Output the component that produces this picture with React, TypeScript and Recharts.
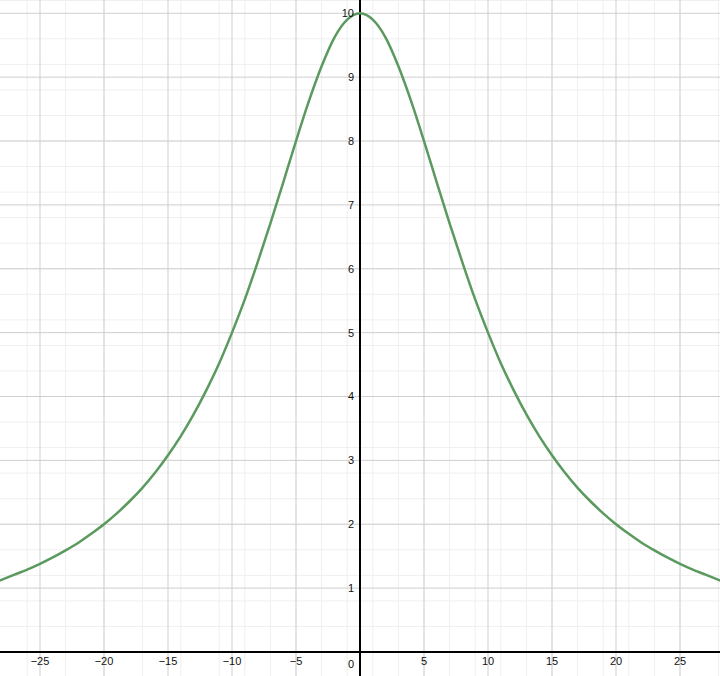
import { LineChart, Line, XAxis, YAxis, CartesianGrid, ReferenceLine, ReferenceDot } from 'recharts';

// curve, one point per unit of x
const X_VALUES = [
  -29, -28, -27, -26, -25, -24, -23, -22, -21, -20, -19, -18, -17, -16, -15,
  -14, -13, -12, -11, -10, -9, -8, -7, -6, -5, -4, -3, -2, -1, 0,
  1, 2, 3, 4, 5, 6, 7, 8, 9, 10, 11, 12, 13, 14, 15,
  16, 17, 18, 19, 20, 21, 22, 23, 24, 25, 26, 27, 28, 29,
];
const Y_VALUES = [
  1.06, 1.13, 1.21, 1.29, 1.38, 1.48, 1.59, 1.71, 1.85, 2.0, 2.17, 2.36, 2.57, 2.81, 3.08,
  3.38, 3.72, 4.1, 4.52, 5.0, 5.52, 6.1, 6.71, 7.35, 8.0, 8.62, 9.17, 9.62, 9.9, 10.0,
  9.9, 9.62, 9.17, 8.62, 8.0, 7.35, 6.71, 6.1, 5.52, 5.0, 4.52, 4.1, 3.72, 3.38, 3.08,
  2.81, 2.57, 2.36, 2.17, 2.0, 1.85, 1.71, 1.59, 1.48, 1.38, 1.29, 1.21, 1.13, 1.06,
];

const X_TICKS = [-25, -20, -15, -10, -5, 5, 10, 15, 20, 25];
const Y_TICKS = [1, 2, 3, 4, 5, 6, 7, 8, 9, 10];

const X_DOMAIN: [number, number] = [-28.125, 28.125];
const Y_DOMAIN: [number, number] = [-0.376, 10.208];

const data = X_VALUES.map((x, i) => ({ x, y: Y_VALUES[i] }));

// grid positions
const minorX: number[] = [];
for (let v = -28; v <= 28; v++) minorX.push(v);
const minorY: number[] = [];
for (let v = -2; v <= 51; v++) minorY.push(v / 5);
const majorX: number[] = [];
for (let v = -25; v <= 25; v += 5) majorX.push(v);
const majorY: number[] = [];
for (let v = 0; v <= 10; v++) majorY.push(v);

const fmt = (v: number) => (v < 0 ? `\u2212${Math.abs(v)}` : `${v}`);
const labelStyle = { fontSize: 11, fill: '#111', fontFamily: 'Arial, "Liberation Sans", sans-serif' };

export default function App() {
  return (
    <div style={{ position: 'absolute', left: 0, top: 0, width: 720, height: 676, background: '#fff', overflow: 'hidden' }}>
      <LineChart width={720} height={676} data={data} margin={{ top: 0, right: 0, bottom: 0, left: 0 }}>
        <XAxis type="number" dataKey="x" domain={X_DOMAIN} allowDataOverflow hide />
        <YAxis type="number" domain={Y_DOMAIN} allowDataOverflow hide />
        <CartesianGrid stroke="#efefef" strokeWidth={1} verticalValues={minorX} horizontalValues={minorY} />
        <CartesianGrid stroke="#cfcfcf" strokeWidth={1} verticalValues={majorX} horizontalValues={majorY} />
        <ReferenceLine x={0} stroke="#000" strokeWidth={2} />
        <ReferenceLine y={0} stroke="#000" strokeWidth={2} />
        {X_TICKS.map((t) => (
          <ReferenceDot
            key={`xt${t}`}
            x={t}
            y={0}
            r={0}
            stroke="none"
            fill="none"
            label={{ value: fmt(t), position: 'bottom', offset: 5, style: labelStyle }}
          />
        ))}
        {Y_TICKS.map((t) => (
          <ReferenceDot
            key={`yt${t}`}
            x={0}
            y={t}
            r={0}
            stroke="none"
            fill="none"
            label={{ value: fmt(t), position: 'left', offset: 6, style: labelStyle }}
          />
        ))}
        <ReferenceDot
          x={0}
          y={0}
          r={0}
          stroke="none"
          fill="none"
          label={{ value: '0', position: 'insideBottomRight', offset: 0, dx: -6, dy: 16, style: labelStyle }}
        />
        <Line
          type="monotone"
          dataKey="y"
          stroke="#5a9a5e"
          strokeWidth={2.5}
          dot={false}
          activeDot={false}
          isAnimationActive={false}
        />
      </LineChart>
    </div>
  );
}
